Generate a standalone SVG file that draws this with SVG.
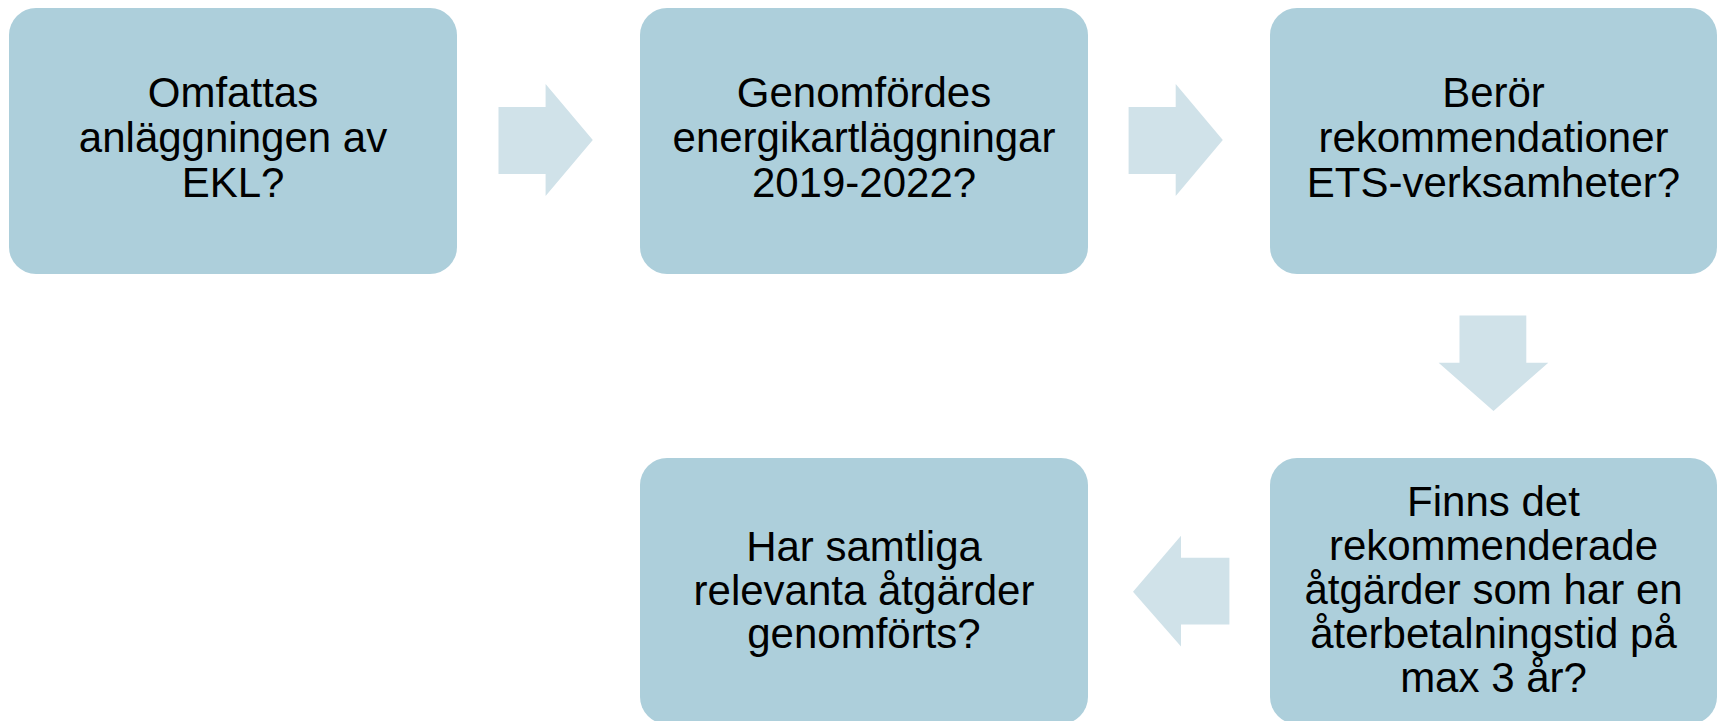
<svg xmlns="http://www.w3.org/2000/svg" width="1718" height="721" viewBox="0 0 1718 721">
<style>
.box{fill:#ADCFDB;}
.arr{fill:#D0E2E9;}
.t{font-family:"Liberation Sans",Arial,sans-serif;font-size:42px;fill:#000;text-anchor:middle;}
</style>
<rect width="1718" height="721" fill="#FFFFFF"/>
<g id="connectors">
<polygon class="arr" points="498.5,107 545.6,107 545.6,84 592.8,140 545.6,196 545.6,174 498.5,174"/>
<polygon class="arr" points="1128.6,107 1175.7,107 1175.7,84 1222.8,140 1175.7,196 1175.7,174 1128.6,174"/>
<polygon class="arr" points="1459.5,315.6 1526.3,315.6 1526.3,362.7 1548.3,362.7 1493.5,410.9 1438.6,362.7 1459.5,362.7"/>
<polygon class="arr" points="1229.4,557.7 1181,557.7 1181,535.8 1133,591.7 1181,646.5 1181,624.5 1229.4,624.5"/>
</g>
<g id="n1">
<rect class="box" x="9" y="8" width="448" height="266" rx="27"/>
<text class="t"><tspan x="233" y="107">Omfattas</tspan><tspan x="233" y="152">anläggningen av</tspan><tspan x="233" y="197">EKL?</tspan></text>
</g>
<g id="n2">
<rect class="box" x="640" y="8" width="448" height="266" rx="27"/>
<text class="t"><tspan x="864" y="107">Genomfördes</tspan><tspan x="864" y="152">energikartläggningar</tspan><tspan x="864" y="197">2019-2022?</tspan></text>
</g>
<g id="n3">
<rect class="box" x="1270" y="8" width="447" height="266" rx="27"/>
<text class="t"><tspan x="1493.5" y="107">Berör</tspan><tspan x="1493.5" y="152">rekommendationer</tspan><tspan x="1493.5" y="197">ETS-verksamheter?</tspan></text>
</g>
<g id="n4">
<rect class="box" x="1270" y="458" width="447" height="266" rx="27"/>
<text class="t"><tspan x="1493.5" y="516">Finns det</tspan><tspan x="1493.5" y="560">rekommenderade</tspan><tspan x="1493.5" y="604">åtgärder som har en</tspan><tspan x="1493.5" y="648">återbetalningstid på</tspan><tspan x="1493.5" y="692">max 3 år?</tspan></text>
</g>
<g id="n5">
<rect class="box" x="640" y="458" width="448" height="266" rx="27"/>
<text class="t"><tspan x="864" y="561">Har samtliga</tspan><tspan x="864" y="604.5">relevanta åtgärder</tspan><tspan x="864" y="648">genomförts?</tspan></text>
</g>
</svg>
